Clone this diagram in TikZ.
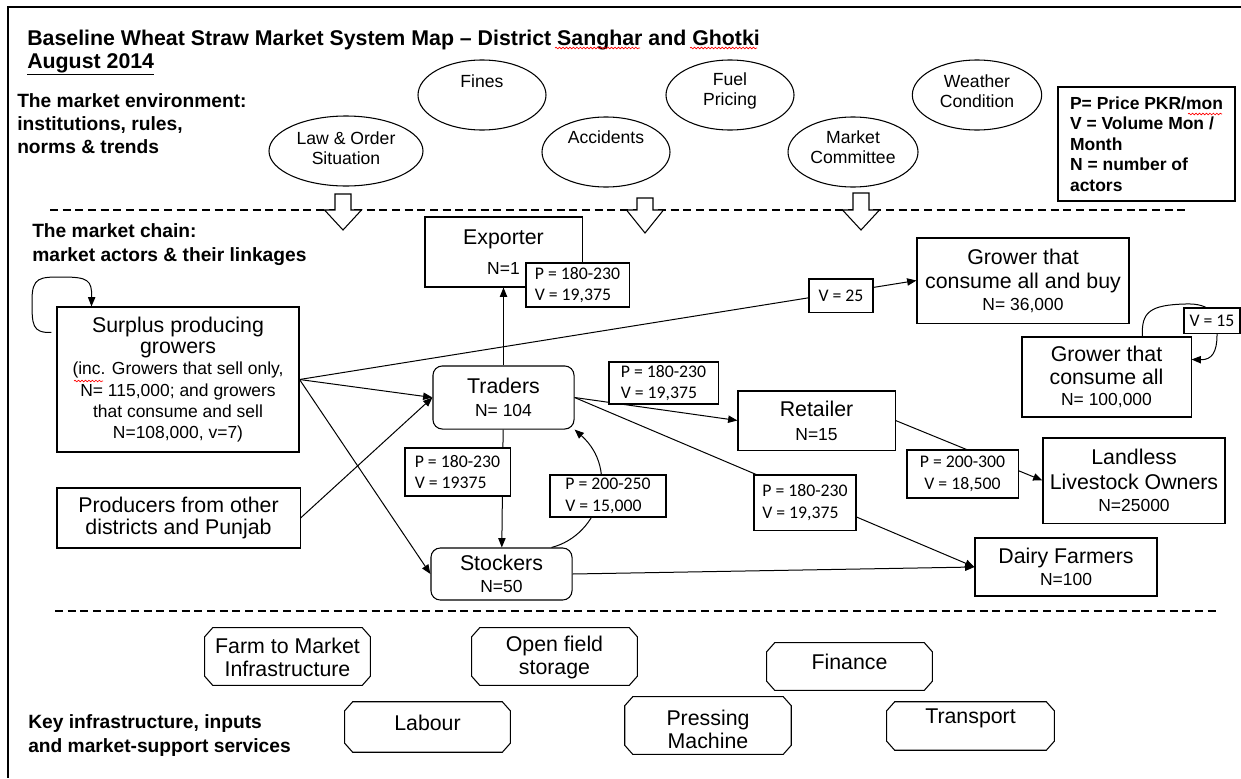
\documentclass[tikz,border=0pt]{standalone}
\usepackage{fontspec}
\setmainfont{Liberation Sans}
\newfontfamily\pvfont{Carlito}
\usepackage{tikz}
\usetikzlibrary{arrows.meta,positioning,calc,shapes.geometric,decorations.pathmorphing}
\newcommand\fsz[2]{\fontsize{#1}{#2}\selectfont}
\newcommand\hd[1]{{\fsz{16}{17}#1}}
\tikzset{
  actor/.style={draw, line width=0.8pt, align=center, inner sep=1pt, font=\fsz{13.1}{16}},
  trader/.style={actor, rounded corners=7pt},
  envell/.style={draw, ellipse, line width=0.8pt, inner sep=0pt, minimum height=52.5pt},
  envtxt/.style={align=center, inner sep=0pt, font=\fsz{13.2}{15.2}},
  infra/.style={line width=0.8pt},
  infratxt/.style={align=center, inner sep=0pt, font=\fsz{16}{17.3}},
  pv/.style={draw, fill=white, line width=0.8pt, align=left, inner sep=1pt, font=\pvfont\fsz{13.3}{16}},
  side/.style={inner sep=0pt, anchor=base west, font=\bfseries\fsz{14.4}{17}},
  flow/.style={-{Triangle[length=7pt,width=5.5pt]}, line width=0.75pt},
  spell/.style={red, line width=0.5pt, decorate, decoration={snake, amplitude=0.6pt, segment length=2.6pt}},
  sep/.style={dash pattern=on 6pt off 3.5pt, line width=1pt},
}

\begin{document}
\begin{tikzpicture}[x=0.75pt, y=-0.75pt]
\useasboundingbox (0,0) rectangle (1241,778);
% page frame
\draw[line width=1.1pt] (1241,7) -- (8,7) -- (8,778);
% title and side headings
\node[inner sep=0pt, anchor=base west, font=\bfseries\fsz{16}{19}] (title) at (27,45) {Baseline Wheat Straw Market System Map – District Sanghar and Ghotki};
\node[inner sep=0pt, anchor=base west, font=\bfseries\fsz{16}{19}] (date) at (27,68) {\underline{August 2014}};
\node[side] (env1) at (17,107) {The market environment:};
\node[side] (env2) at (17,130) {institutions, rules,};
\node[side] (env3) at (17,153) {norms \& trends};
\node[side] (chain1) at (32,237) {The market chain:};
\node[side] (chain2) at (32,261) {market actors \& their linkages};
\node[side] (key1) at (28,728) {Key infrastructure, inputs};
\node[side] (key2) at (28,752) {and market-support services};
% market environment
\foreach \nm/\cx/\cy/\w/\dy/\txt in {law/346/151/115.5/-2.5/{Law \& Order\\Situation},
  fines/482/95/96/-14/{Fines}, accid/606/152/96/-15/{Accidents},
  fuel/730/95/96/-4/{Fuel\\Pricing}, mkt/853/152/97.5/-4.5/{Market\\Committee},
  weather/977/95/97/-4/{Weather\\Condition}}
{
  \node[envell, minimum width=\w pt] (\nm) at (\cx,\cy) {};
  \node[envtxt] (\nm-t) at ($(\nm)+(0,\dy)$) {\txt};
}
\node[draw, line width=0.8pt, align=left, inner sep=0pt, minimum width=132.75pt, minimum height=85.5pt,
  font=\bfseries\fsz{13.1}{15.4}] (legend) at (1146.5,144) {P= Price PKR/mon\\V = Volume Mon /\\Month\\N = number of\\actors};
% separators and influence arrows
\draw[sep] (50,210) -- (1188,210);
\draw[sep] (55,611) -- (1218,611);
\foreach \ax/\ay/\az in {343/194/230, 645/198/233, 861/193/230}
  \draw[line width=0.8pt, fill=white] (\ax-8,\ay) -- (\ax-8,210) -- (\ax-18.5,210) -- (\ax,\az)
    -- (\ax+18.5,210) -- (\ax+8,210) -- (\ax+8,\ay) -- cycle;
% market actors
\node[actor, minimum width=181.5pt, minimum height=108.75pt] (surplus) at (178,379.5)
  {\hd{Surplus producing}\\\hd{growers}\\(inc. Growers that sell only,\\N= 115,000; and growers\\that consume and sell\\N=108,000, v=7)};
\node[actor, minimum width=182.3pt, minimum height=45pt] (producers) at (178.5,518)
  {\hd{Producers from other}\\[1pt]\hd{districts and Punjab}};
\node[actor, minimum width=117.8pt, minimum height=52.5pt] (exporter) at (503.5,252) {\hd{Exporter}\\[7pt]N=1};
\node[trader, minimum width=105.8pt, minimum height=47.3pt] (traders) at (503.5,397.5) {\hd{Traders}\\[1pt]N= 104};
\node[trader, minimum width=105.8pt, minimum height=39pt] (stockers) at (501.5,574) {\hd{Stockers}\\[1pt]N=50};
\node[actor, minimum width=117.8pt, minimum height=44.3pt] (retailer) at (816.5,420.5) {\hd{Retailer}\\[2pt]N=15};
\node[actor, minimum width=159pt, minimum height=63.8pt] (growbuy) at (1023,280.5)
  {\hd{Grower that}\\[2.5pt]\hd{consume all and buy}\\N= 36,000};
\node[actor, minimum width=126.8pt, minimum height=60pt] (growall) at (1106.5,377)
  {\hd{Grower that}\\[1pt]\hd{consume all}\\N= 100,000};
\node[actor, minimum width=136.5pt, minimum height=63.8pt] (landless) at (1134,480.5)
  {\hd{Landless}\\[2.5pt]\hd{Livestock Owners}\\[1pt]N=25000};
\node[actor, minimum width=136.5pt, minimum height=43.5pt] (dairy) at (1066,567) {\hd{Dairy Farmers}\\N=100};
% linkages
\draw[flow] (surplus.east) -- (growbuy.west);
\draw[flow] (surplus.east) -- (traders.west);
\draw[flow] (surplus.east) -- (stockers.west);
\draw[flow] (producers.east) -- (traders.west);
\draw[flow] (traders) -- (exporter);
\draw[flow] (traders) -- (stockers);
\draw[flow] (traders.east) -- (retailer.west);
\draw[flow] (traders.east) -- (dairy.west);
\draw[flow] (stockers.east) -- (dairy.west);
\draw[flow] (retailer.east) -- (landless.west);
\draw[flow] ($(stockers.north)+(50,0)$) .. controls (600,535) and (620,470) .. (traders.south east);
\draw[flow] ($(surplus.north west)+(-5,26)$) .. controls (32,333) and (32,325) .. (32,300)
  .. controls (32,277) and (40,277) .. (62,277) .. controls (88,277) and (92,280) .. ($(surplus.north west)+(35,0)$);
\draw[flow] ($(growall.north)+(36,0)$) .. controls (1141,312) and (1150,305) .. (1185,304)
  .. controls (1212,303) and (1217,315) .. (1217,335) .. controls (1217,352) and (1212,360) .. ($(growall.north east)+(0,23)$);
% price / volume labels
\node[pv, minimum width=77.3pt, minimum height=33pt] (pvexp) at (577.5,285) {P = 180-230\\V = 19,375};
\node[pv, minimum width=81.8pt, minimum height=31.5pt] (pvret) at (663.5,383) {P = 180-230\\V = 19,375};
\node[pv, minimum width=78.8pt, minimum height=36pt] (pvstk) at (457.5,472) {P = 180-230\\V = 19375};
\node[pv, minimum width=87pt, minimum height=31.5pt] (pvback) at (608,496) {P = 200-250\\V = 15,000};
\node[pv, minimum width=76.5pt, minimum height=41.3pt] (pvdairy) at (805,502.5) {P = 180-230\\V = 19,375};
\node[pv, align=center, minimum width=83.3pt, minimum height=36pt] (pvland) at (962.5,474) {P = 200-300\\V = 18,500};
\node[pv, minimum width=48pt, minimum height=24.8pt] (vbuy) at (841,295.5) {V = 25};
\node[pv, minimum width=42pt, minimum height=18.8pt] (vall) at (1212,320.5) {V = 15};
% infrastructure and services (cut-corner boxes)
\foreach \nm/\cx/\cy/\w/\h/\dy/\txt in {farm/287.5/656.5/123.8/42.8/1/{Farm to Market\\Infrastructure},
  openf/554.5/656.5/123.8/42.8/1/{Open field\\storage}, fin/849.5/666.5/123.8/35.3/-4.5/{Finance},
  labour/427.5/727/123.8/37.5/-4/{Labour}, press/708/725.5/124.5/42.8/3.5/{Pressing\\Machine},
  trans/970.5/726/125.3/36/-8/{Transport}}
{
  \node[inner sep=0pt, minimum width=\w pt, minimum height=\h pt] (\nm) at (\cx,\cy) {};
  \draw[infra] ($(\nm.north west)+(8,0)$) -- ($(\nm.north east)+(-8,0)$) -- ($(\nm.north east)+(0,9)$)
    -- ($(\nm.south east)+(0,-9)$) -- ($(\nm.south east)+(-8,0)$) -- ($(\nm.south west)+(8,0)$)
    -- ($(\nm.south west)+(0,-9)$) -- ($(\nm.north west)+(0,9)$) -- cycle;
  \node[infratxt] (\nm-t) at ($(\nm)+(0,\dy)$) {\txt};
}
% spelling marks
\draw[spell] (555,48) -- (640,48);
\draw[spell] (690,48) -- (757,48);
\draw[spell] (74,381) -- (103,381);
\draw[spell] (1188,114) -- (1222,114);
\end{tikzpicture}
\end{document}
